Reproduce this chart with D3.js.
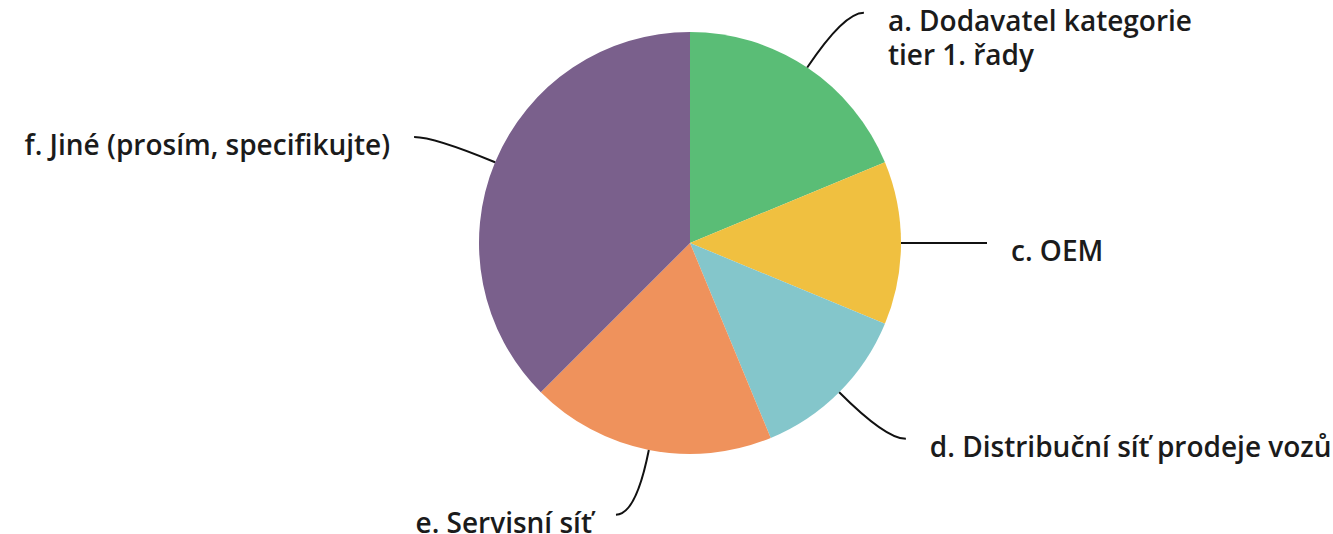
<!DOCTYPE html>
<html>
<head>
<meta charset="utf-8">
<script src="https://cdn.jsdelivr.net/npm/d3@7"></script>
<style>
  body { margin: 0; background: #fff; }
  text { font-family: "Open Sans", sans-serif; font-weight: 600; fill: #1b1b1b; }
</style>
</head>
<body>
<svg width="1333" height="534"></svg>
<script>
// answer categories (clockwise from 12 o'clock) and response counts
const labels = [
  ['a. Dodavatel kategorie', 'tier 1. řady'],
  ['c. OEM'],
  ['d. Distribuční síť prodeje vozů'],
  ['e. Servisní síť'],
  ['f. Jiné (prosím, specifikujte)']
];
const counts = [3, 2, 2, 3, 6];
const colors = ['#5abd76', '#f0c040', '#84c6cb', '#ef925c', '#7a608c'];

const cx = 690, cy = 243, radius = 211;

let svg = d3.select('svg')
  .append('g')
  .attr('transform', 'translate(' + cx + ',' + cy + ')');

let pie = d3.pie().sort(null).value(d => d);
let arcs = pie(counts);

let arc = d3.arc().innerRadius(0).outerRadius(radius);

svg.selectAll('path.slice')
  .data(arcs)
  .enter().append('path')
  .attr('class', 'slice')
  .attr('fill', (d, i) => colors[i])
  .attr('d', arc);

// leader lines: leave the rim radially, then bend to horizontal
const ext = 66, run = 20, gap = 24;
function pt(a, r) { return [Math.sin(a) * r, -Math.cos(a) * r]; }

arcs.forEach((d, i) => {
  let mid = (d.startAngle + d.endAngle) / 2;
  let side = Math.sin(mid) >= 0 ? 1 : -1;
  let p0 = pt(mid, radius);
  let p1 = pt(mid, radius + ext);
  let p2 = [p1[0] + side * run, p1[1]];
  let path = d3.path();
  path.moveTo(p0[0], p0[1]);
  path.quadraticCurveTo(p1[0], p1[1], p2[0], p2[1]);
  svg.append('path')
    .attr('d', path.toString())
    .attr('fill', 'none')
    .attr('stroke', '#111')
    .attr('stroke-width', 2);

  let t = svg.append('text')
    .attr('x', p2[0] + side * gap)
    .attr('y', p2[1] + 18)
    .attr('text-anchor', side > 0 ? 'start' : 'end')
    .style('font-size', '28px');
  labels[i].forEach((line, j) => {
    t.append('tspan')
      .attr('x', p2[0] + side * gap)
      .attr('dy', j === 0 ? 0 : 34)
      .text(line);
  });
});
</script>
</body>
</html>
